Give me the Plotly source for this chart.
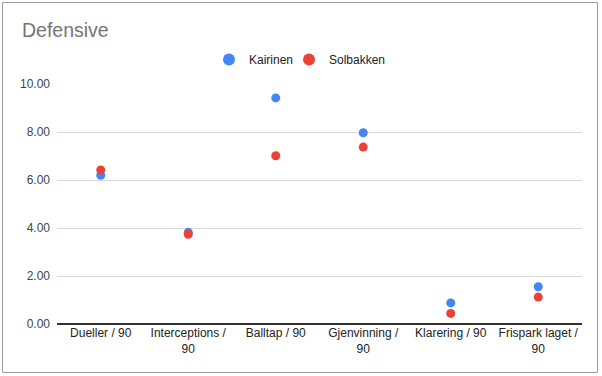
import plotly.graph_objects as go

categories = ["Dueller / 90", "Interceptions / 90", "Balltap / 90",
              "Gjenvinning / 90", "Klarering / 90", "Frispark laget / 90"]
tick_labels = ["Dueller / 90", "Interceptions /<br>90", "Balltap / 90",
               "Gjenvinning /<br>90", "Klarering / 90", "Frispark laget /<br>90"]
kairinen = [6.2, 3.82, 9.42, 7.97, 0.88, 1.55]
solbakken = [6.42, 3.74, 7.01, 7.37, 0.44, 1.12]
y_ticks = [0, 2, 4, 6, 8, 10]

FONT = "Arial, 'Liberation Sans', sans-serif"

fig = go.Figure()
fig.add_trace(go.Scatter(x=categories, y=kairinen, mode="markers", name="Kairinen",
                         marker=dict(color="#4285F4", size=9, line=dict(width=0)),
                         legend="legend"))
fig.add_trace(go.Scatter(x=categories, y=solbakken, mode="markers", name="Solbakken",
                         marker=dict(color="#EA4335", size=9, line=dict(width=0)),
                         legend="legend2"))

L, R, T, B = 57, 20, 84, 52
W, H = 602, 376
pw, ph = W - L - R, H - T - B

def px_x(x):
    return (x - L) / pw

def px_y(y):
    return (H - B - y) / ph

legend_common = dict(orientation="h", xanchor="left", y=px_y(59.5), yanchor="middle",
                     font=dict(size=12, color="#222222"), itemsizing="constant",
                     bgcolor="rgba(0,0,0,0)")

fig.update_layout(
    width=W, height=H,
    margin=dict(l=L, r=R, t=T, b=B),
    paper_bgcolor="white", plot_bgcolor="white",
    font=dict(family=FONT, size=12, color="#444444"),
    title=dict(text="Defensive", x=22 / W, xanchor="left",
               y=1 - 30 / H, yanchor="middle",
               font=dict(size=19.5, color="#757575", family=FONT)),
    showlegend=True,
    legend=dict(x=px_x(209), **legend_common),
    legend2=dict(x=px_x(289), **legend_common),
    xaxis=dict(type="category", categoryorder="array", categoryarray=categories,
               tickvals=categories, ticktext=tick_labels, range=[-0.5, 5.5],
               showgrid=False, zeroline=False, showline=False, ticks="",
               tickfont=dict(size=12, color="#222222")),
    yaxis=dict(range=[0, 10], tickvals=y_ticks, tickformat=".2f",
               showgrid=True, gridcolor="#D9D9D9", gridwidth=1,
               zeroline=True, zerolinecolor="#333333", zerolinewidth=1.5,
               showline=False, ticks="", ticklabelstandoff=6,
               tickfont=dict(size=12, color="#444444")),
    shapes=[dict(type="rect", xref="paper", yref="paper",
                 x0=px_x(2.5), x1=px_x(597.5), y0=px_y(372.5), y1=px_y(2.5),
                 line=dict(color="#9E9E9E", width=1), fillcolor="rgba(0,0,0,0)",
                 layer="below")],
)

fig.write_html("out.html", config={"displayModeBar": False},
               post_script="document.body.style.margin='0';document.body.style.overflow='hidden';")
